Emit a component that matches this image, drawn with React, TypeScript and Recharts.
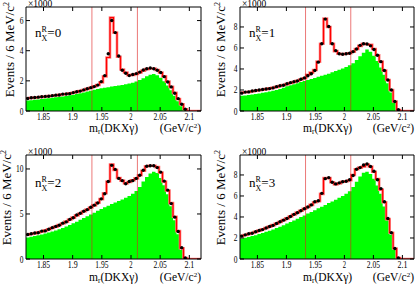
import React from "react";
import { ComposedChart, Area, Line, Scatter, XAxis, YAxis, ReferenceLine } from "recharts";

const XMIN = 1.82;
const XMAX = 2.12;
const BIN = 0.006;
const xTicks = [1.85, 1.9, 1.95, 2, 2.05, 2.1];
const cutLines = [1.933, 2.011];
const panelLabels = ["0", "1", "2", "3"];

const green1 = [0.70,0.72,0.75,0.77,0.80,0.83,0.85,0.88,0.91,0.94,0.97,1.00,1.04,1.08,1.13,1.18,1.23,1.29,1.35,1.41,1.46,1.51,1.55,1.58,1.62,1.66,1.70,1.73,1.77,1.82,1.88,1.95,2.05,2.18,2.30,2.40,2.45,2.38,2.20,1.98,1.70,1.38,1.02,0.65,0.32,0.06,0,0,0,0];
const total1 = [0.85,0.87,0.89,0.91,0.94,0.96,0.99,1.01,1.04,1.07,1.10,1.13,1.17,1.21,1.27,1.33,1.39,1.47,1.54,1.63,1.73,1.90,2.30,3.55,6.20,5.20,3.60,2.75,2.55,2.38,2.40,2.45,2.55,2.68,2.78,2.82,2.82,2.72,2.55,2.30,1.95,1.60,1.20,0.80,0.45,0.12,0,0,0,0];
const data1 = [0.83,0.88,0.90,0.92,0.95,0.97,0.98,1.02,1.05,1.06,1.12,1.13,1.15,1.22,1.28,1.32,1.40,1.48,1.55,1.62,1.72,1.95,2.35,3.80,6.00,5.20,3.65,2.70,2.50,2.35,2.42,2.48,2.58,2.72,2.80,2.85,2.80,2.70,2.55,2.28,1.92,1.60,1.18,0.82,0.45,0.12];

const green2 = [1.45,1.48,1.52,1.57,1.62,1.67,1.73,1.79,1.85,1.92,2.00,2.10,2.22,2.35,2.45,2.55,2.65,2.75,2.85,2.95,3.05,3.15,3.25,3.35,3.45,3.55,3.68,3.80,3.92,4.05,4.20,4.35,4.55,4.85,5.20,5.55,5.85,5.65,5.25,4.75,4.15,3.45,2.65,1.75,0.80,0.06,0,0,0,0];
const total2 = [1.75,1.78,1.82,1.87,1.93,1.98,2.03,2.08,2.15,2.22,2.30,2.38,2.47,2.56,2.66,2.76,2.88,3.00,3.12,3.45,3.65,3.90,4.70,6.40,8.80,8.00,6.40,5.70,5.45,5.40,5.45,5.50,5.65,5.90,6.20,6.40,6.35,6.30,5.90,5.30,4.70,3.85,2.95,2.00,0.90,0.10,0,0,0,0];
const data2 = [1.70,1.80,1.82,1.90,1.95,2.00,2.05,2.10,2.13,2.20,2.32,2.40,2.45,2.60,2.70,2.78,2.85,3.02,3.15,3.35,3.55,3.85,4.65,6.40,8.75,8.05,6.40,5.75,5.45,5.40,5.45,5.50,5.65,5.90,6.25,6.40,6.38,6.20,5.85,5.30,4.70,3.85,2.95,2.00,0.90,0.12];

const green3 = [2.40,2.47,2.55,2.63,2.72,2.82,2.93,3.05,3.17,3.30,3.44,3.60,3.78,3.97,4.15,4.35,4.55,4.75,4.95,5.15,5.35,5.55,5.75,5.92,6.10,6.28,6.45,6.62,6.80,7.00,7.25,7.55,8.00,8.60,9.10,9.50,9.70,9.55,9.00,8.20,7.20,5.85,4.30,2.75,1.00,0.06,0,0,0,0];
const total3 = [2.70,2.78,2.85,2.95,3.05,3.17,3.30,3.45,3.60,3.77,3.95,4.15,4.38,4.60,4.85,5.05,5.28,5.50,5.72,5.95,6.25,6.65,7.30,8.60,10.50,9.90,9.00,8.70,8.40,8.55,8.75,8.95,9.30,9.80,10.30,10.35,10.35,10.20,9.60,8.60,7.60,6.20,4.70,3.10,1.20,0.10,0,0,0,0];
const data3 = [2.72,2.80,2.88,2.92,3.10,3.12,3.30,3.48,3.62,3.75,3.98,4.12,4.40,4.58,4.88,5.08,5.30,5.48,5.75,5.98,6.22,6.68,7.25,8.60,10.40,9.95,8.95,8.70,8.35,8.60,8.70,8.95,9.30,9.85,10.30,10.35,10.35,10.15,9.65,8.65,7.65,6.15,4.65,3.05,1.25,0.12];

const green4 = [1.95,2.02,2.10,2.18,2.27,2.37,2.48,2.59,2.70,2.82,2.95,3.08,3.22,3.37,3.52,3.67,3.83,3.99,4.15,4.32,4.48,4.65,4.82,4.98,5.15,5.32,5.48,5.65,5.82,6.00,6.20,6.45,6.85,7.35,7.85,8.20,8.30,8.10,7.65,7.00,6.20,5.00,3.70,2.30,0.90,0.06,0,0,0,0];
const total4 = [2.20,2.28,2.38,2.48,2.58,2.70,2.83,2.95,3.08,3.22,3.37,3.52,3.70,3.87,4.05,4.23,4.42,4.60,4.78,4.95,5.15,5.40,5.50,6.20,7.70,7.70,7.30,7.10,7.20,7.35,7.40,7.50,8.00,8.55,8.70,8.80,9.00,8.80,8.30,7.60,6.60,5.40,3.80,2.50,1.00,0.10,0,0,0,0];
const data4 = [2.18,2.30,2.40,2.45,2.60,2.72,2.80,2.95,3.10,3.20,3.38,3.55,3.70,3.85,4.05,4.25,4.40,4.60,4.78,4.95,5.15,5.45,5.55,6.25,7.65,7.75,7.30,7.15,7.25,7.35,7.40,7.55,7.95,8.55,8.70,8.95,9.05,8.80,8.35,7.55,6.70,5.45,3.85,2.50,1.00,0.10];

const FONT = "Liberation Serif, Times New Roman, serif";
const binEdges = Array.from({ length: 50 }, (_, i) => +(XMIN + i * BIN).toFixed(4));

function buildRows(green: number[], total: number[]) {
  const rows = binEdges.map((x, i) => ({ x, g: green[i], t: total[i] }));
  rows.push({ x: XMAX, g: green[49], t: total[49] });
  return rows;
}
function buildPts(pts: number[]) {
  return pts.map((v, i) => ({ x: binEdges[i] + BIN / 2, y: v }));
}

const XTickBottom = (props: any) => {
  const { x, y, payload } = props;
  return (
    <g>
      <line x1={x} y1={y} x2={x} y2={y - 4} stroke="#000" />
      <text transform={`translate(${x},${y + 9})`} textAnchor="middle" fontSize={10} textLength={String(payload.value).length * 3.3} lengthAdjust="spacingAndGlyphs" fontFamily={FONT} fill="#000">
        {String(payload.value)}
      </text>
    </g>
  );
};
const XTickTop = (props: any) => {
  const { x, y } = props;
  return <line x1={x} y1={y} x2={x} y2={y + 4} stroke="#000" />;
};
const YTickLeft = (props: any) => {
  const { x, y, payload } = props;
  return (
    <g>
      <line x1={x} y1={y} x2={x + 4} y2={y} stroke="#000" />
      <text transform={`translate(${x - 2.5},${y + 3.5}) scale(0.75,1)`} textAnchor="end" fontSize={10} fontFamily={FONT} fill="#000">
        {String(payload.value)}
      </text>
    </g>
  );
};
const YTickRight = (props: any) => {
  const { x, y } = props;
  return <line x1={x} y1={y} x2={x - 4} y2={y} stroke="#000" />;
};

const Dot = (props: any) => {
  const { cx, cy } = props;
  if (cx == null || cy == null) return null;
  return <circle cx={cx} cy={cy} r={1.7} fill="#000" />;
};

type PanelProps = {
  left: number; top: number; w: number; h: number;
  plot: { top: number; right: number; bottom: number; left: number };
  green: number[]; total: number[]; pts: number[];
  yMax: number; yTicks: number[];
};

const XH = 20;
const YW = 20;

function Panel(p: PanelProps) {
  const rows = buildRows(p.green, p.total);
  const pts = buildPts(p.pts);
  const margin = {
    top: p.plot.top - 1,
    right: p.plot.right - 1,
    bottom: p.plot.bottom - XH,
    left: p.plot.left - YW,
  };
  return (
    <div style={{ position: "absolute", left: p.left, top: p.top }}>
      <ComposedChart width={p.w} height={p.h} data={rows} margin={margin}>
        <XAxis dataKey="x" type="number" domain={[XMIN, XMAX]} ticks={xTicks} interval={0} allowDataOverflow
          height={XH} tickSize={0} tickMargin={0} tickLine={false} tick={<XTickBottom />} axisLine={{ stroke: "#000" }} />
        <XAxis xAxisId="top" orientation="top" dataKey="x" type="number" domain={[XMIN, XMAX]} ticks={xTicks} interval={0} allowDataOverflow
          height={1} tickSize={0} tickMargin={0} tickLine={false} tick={<XTickTop />} axisLine={{ stroke: "#000" }} />
        <YAxis dataKey="y" type="number" domain={[0, p.yMax]} ticks={p.yTicks} interval={0} allowDataOverflow
          width={YW} tickSize={0} tickMargin={0} tickLine={false} tick={<YTickLeft />} axisLine={{ stroke: "#000" }} />
        <YAxis yAxisId="right" orientation="right" type="number" domain={[0, p.yMax]} ticks={p.yTicks} interval={0} allowDataOverflow
          width={1} tickSize={0} tickMargin={0} tickLine={false} tick={<YTickRight />} axisLine={{ stroke: "#000" }} />
        <Area type="stepAfter" dataKey="g" fill="#00ff00" fillOpacity={1} stroke="none" isAnimationActive={false} />
        <Line type="stepAfter" dataKey="t" stroke="#ff8080" strokeWidth={2.6} dot={false} isAnimationActive={false} />
        <Line type="stepAfter" dataKey="t" stroke="#ff0000" strokeWidth={1.2} dot={false} isAnimationActive={false} />
        <Scatter data={pts} dataKey="y" shape={<Dot />} isAnimationActive={false} />
        {cutLines.map((c) => (
          <ReferenceLine key={c} x={c} stroke="#e02020" strokeOpacity={0.6} strokeWidth={1} />
        ))}
      </ComposedChart>
    </div>
  );
}

function Texts({ ox, oy, yTitleX, label, axisRight, nY, xtY }: any) {
  return (
    <g fontFamily={FONT} fill="#000">
      <text x={ox + 2} y={oy - 0.5} fontSize={9.5}>×1000</text>
      <text transform={`translate(${yTitleX},${oy - 5}) rotate(-90)`} textAnchor="end" fontSize={13}>
        Events / 6 MeV/c<tspan fontSize={8} dy={-5}>2</tspan>
      </text>
      <text x={ox + 9} y={nY} fontSize={13}>
        n<tspan fontSize={8} dy={-5.5}>R</tspan>
        <tspan fontSize={8} dx={-5.3} dy={9}>X</tspan>
        <tspan dy={-3.5}>={label}</tspan>
      </text>
      <text x={ox + 63} y={xtY} fontSize={11.5}>
        m<tspan fontSize={7.5} dy={2}>r</tspan><tspan dy={-2}>(DKXγ)</tspan>
      </text>
      <text x={axisRight} y={xtY} fontSize={11.5} textAnchor="end">
        (GeV/c<tspan fontSize={7} dy={-4}>2</tspan><tspan dy={4}>)</tspan>
      </text>
    </g>
  );
}

export default function App() {
  return (
    <div style={{ position: "absolute", left: 0, top: 0, width: 415, height: 284, background: "#fff", overflow: "hidden" }}>
      <Panel left={0} top={0} w={207} h={142} plot={{ top: 7, right: 6, bottom: 31, left: 26 }}
        green={green1} total={total1} pts={data1} yMax={6.9} yTicks={[0, 2, 4, 6]} />
      <Panel left={207} top={0} w={208} h={142} plot={{ top: 7, right: 1, bottom: 31, left: 33 }}
        green={green2} total={total2} pts={data2} yMax={9.9} yTicks={[0, 2, 4, 6, 8]} />
      <Panel left={0} top={142} w={207} h={142} plot={{ top: 13, right: 6, bottom: 25, left: 26 }}
        green={green3} total={total3} pts={data3} yMax={11.55} yTicks={[0, 5, 10]} />
      <Panel left={207} top={142} w={208} h={142} plot={{ top: 13, right: 1, bottom: 25, left: 33 }}
        green={green4} total={total4} pts={data4} yMax={9.9} yTicks={[0, 2, 4, 6, 8]} />
      <svg width={415} height={284} style={{ position: "absolute", left: 0, top: 0, pointerEvents: "none" }}>
        <Texts ox={26} oy={7} yTitleX={14} label={panelLabels[0]} axisRight={201} nY={37} xtY={132} />
        <Texts ox={240} oy={7} yTitleX={225} label={panelLabels[1]} axisRight={414} nY={37} xtY={132} />
        <Texts ox={26} oy={155} yTitleX={11} label={panelLabels[2]} axisRight={201} nY={187} xtY={280.5} />
        <Texts ox={240} oy={155} yTitleX={225} label={panelLabels[3]} axisRight={414} nY={187} xtY={280.5} />
      </svg>
    </div>
  );
}
